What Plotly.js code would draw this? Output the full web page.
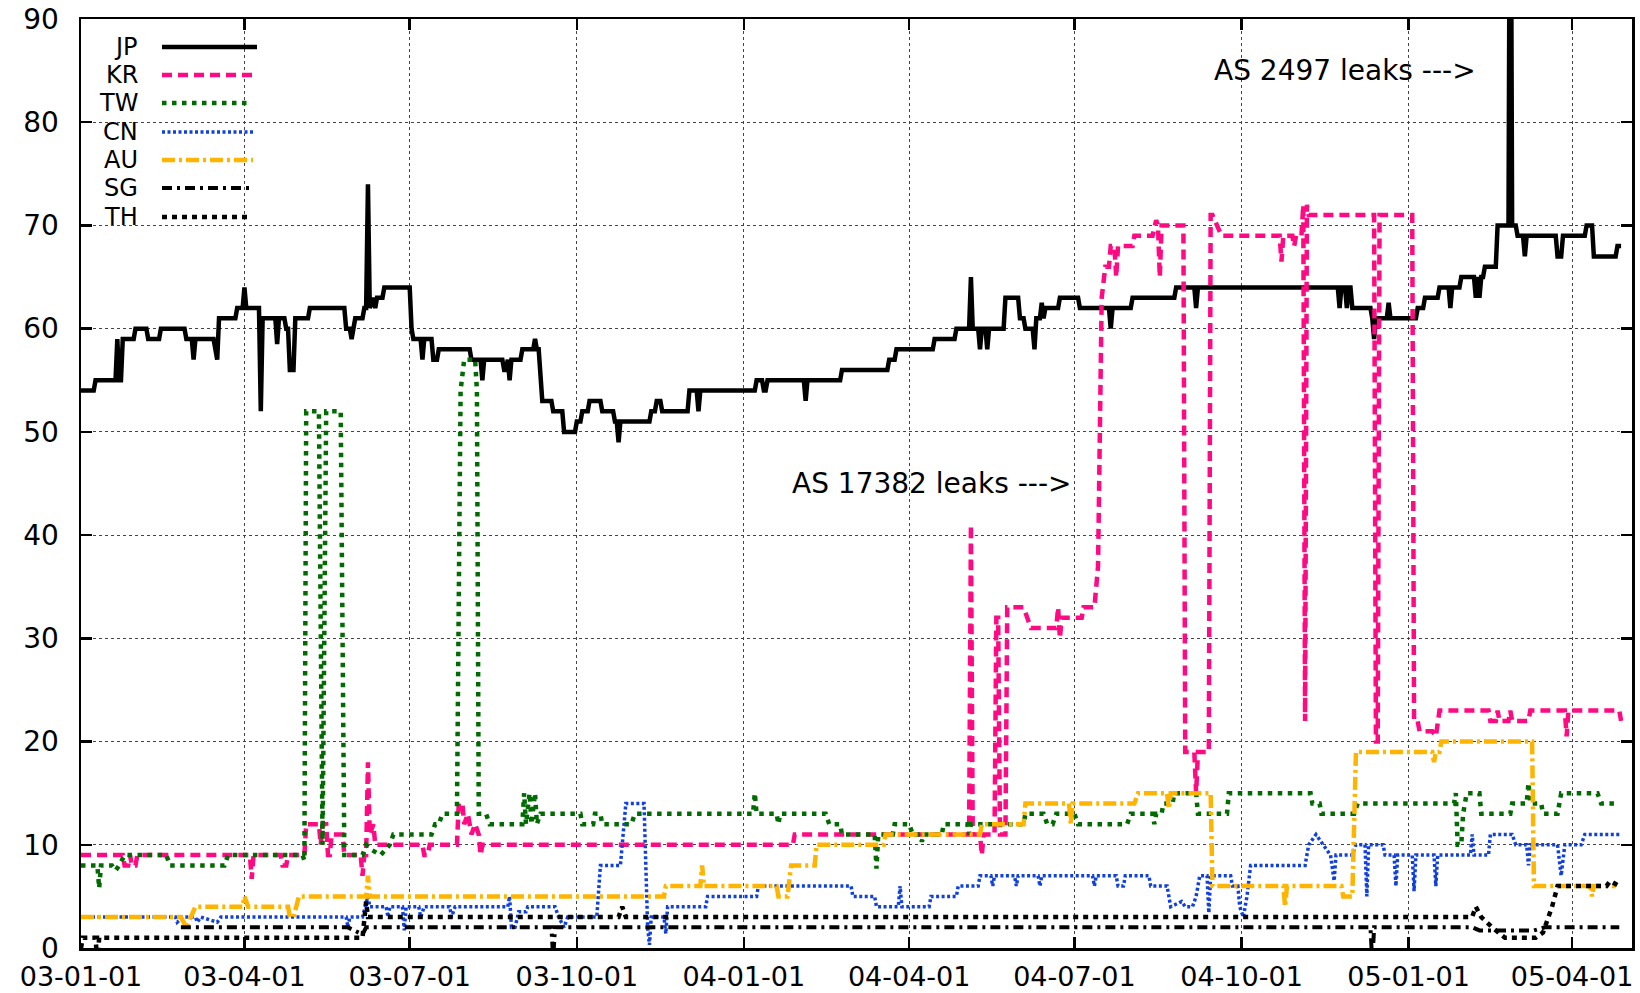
<!DOCTYPE html>
<html>
<head>
<meta charset="utf-8">
<script src="https://cdn.plot.ly/plotly-3.0.1.min.js"></script>
<style>
  html, body { margin: 0; padding: 0; background: #fff; }
  #chart { width: 1640px; height: 993px; }
</style>
</head>
<body>
<div id="chart"></div>
<script>
// ---- data: day offsets from 2003-01-01 and values ----
const START = '2003-01-01';
const seriesNames = ['JP', 'KR', 'TW', 'CN', 'AU', 'SG', 'TH'];

const jpDay = [0,7,8,19,20,21,22,23,29,30,36,37,43,44,57,58,61,62,63,73,75,76,85,86,89,90,91,98,99,100,107,108,109,112,113,114,115,117,118,125,126,145,146,148,149,150,151,155,156,157,158,159,161,162,163,166,167,181,182,183,187,188,189,193,194,196,197,214,215,220,221,222,232,233,234,235,236,237,242,243,249,250,251,252,254,259,260,265,266,272,273,275,276,279,280,286,287,293,294,295,296,297,313,314,316,317,319,320,334,335,339,340,341,371,372,375,376,377,378,398,399,400,418,419,444,445,448,449,469,470,481,482,489,490,491,494,495,496,498,499,500,508,509,516,517,519,520,524,525,526,528,529,530,531,538,539,549,550,566,567,568,578,579,602,603,613,614,615,692,693,694,696,697,698,699,700,710,711,712,713,719,720,721,735,736,739,740,747,748,753,754,755,759,760,767,768,769,770,771,772,773,779,780,786,787,788,790,791,794,795,796,812,813,815,816,828,829,832,833,845,846,848];
const jpVal = [54,54,55,55,59,55,55,59,59,60,60,59,59,60,60,59,59,57,59,59,57,61,61,62,62,64,62,62,52,61,61,58.5,61,61,60,60,56,56,61,61,62,62,60,60,59,60,61,61,62,62,74,62,63,62,63,63,64,64,60,59,59,57,59,59,57,57,58,58,57,57,55,57,57,56,56,57,55,57,57,58,58,59,58,58,53,53,52,52,50,50,51,51,52,52,53,53,52,52,51,51,49,51,51,52,52,53,53,52,52,54,54,52,54,54,55,55,54,54,55,55,53,55,55,56,56,57,57,58,58,59,59,60,60,65,60,60,58,60,60,58,60,60,63,63,61,61,60,60,58,61,61,62.5,61,62,62,63,63,62,62,60,62,62,63,63,64,64,62,64,64,62,64,64,62,64,64,62,62,61,59,61,61,62.5,61,61,62,62,63,63,64,64,62,64,64,65,65,63,65,63,65,65,66,66,70,70,120,70,70,69,69,67,69,69,67,67,69,69,70,70,67,67,68,68];

const krDay = [0,23,24,26,27,28,30,31,93,94,95,110,111,113,114,123,124,131,132,133,135,136,137,138,144,145,154,155,156,157,158,159,161,162,188,189,191,192,207,208,210,211,213,215,217,219,220,221,392,393,489,490,491,495,496,497,503,504,505,506,509,510,519,523,537,538,539,540,551,552,558,560,562,564,566,567,569,570,571,579,580,590,592,593,594,595,607,608,613,614,615,621,622,623,628,660,661,662,667,668,669,672,673,674,675,676,712,713,714,715,733,734,736,737,744,746,748,775,776,779,780,781,786,787,788,797,798,817,818,819,847,848];
const krVal = [9,9,8,8,9,8,8,9,9,6.7,9,9,8,8,9,9,12,12,10,12,12,9,9,11,11,9,9,7,9,9,18,11,12,10,10,9,9,10,10,14,14,12,13,11,12,11,9,10,10,11,11,41,11,11,9,11,11,32,32,11,11,33,33,31,31,33,30,32,32,33,33,37,63,66,66,68,68,65,68,68,69,69,70.5,70,65,70,70,19,19,15,19,19,71,71,69,69,66.5,69,69,68,69,69,72,22,72,71,71,20,20,71,71,22,22,21,21,20.5,23,23,22,22,23,22,22,23,22,22,23,23,20.5,23,23,22];

const twDay = [0,9,10,11,17,19,21,24,47,49,79,81,122,123,124,131,133,135,143,145,155,157,160,165,170,172,193,195,197,199,207,209,211,217,218,219,223,225,243,244,245,247,248,250,251,253,275,276,282,283,286,287,303,305,370,371,372,383,384,385,410,412,418,419,437,438,439,447,448,456,458,462,463,464,474,475,488,489,490,519,520,530,532,535,537,547,549,576,578,590,591,592,595,596,601,602,614,615,631,632,677,678,682,683,701,703,756,757,758,760,761,763,770,771,787,788,796,797,798,804,805,813,815,835,837,847];
const twVal = [8,8,5.8,8,8,7.5,8,9,9,8,8,9,9,8.5,52,52,10,52,52,9,9,10,9.5,9,10,11,11,12,12,13,13,54,57,57,54,13,13,12,12,15,12,15,12,15,12,13,13,12,12,13,13,12,12,13,13,15,13,13,12,13,13,12,12,11,11,7.7,11,11,12,12,11,11,10.3,11,11,12,12,11,12,12,13,13,12,12,13,13,12,12,13,13,12,13,13,14,14,15,15,13,13,15,15,14,14,13,13,14,14,15,10,10,13,15,15,13,13,14,14,16,14,14,13,13,15,15,14,14];

const cnDay = [0,52,53,56,63,64,66,75,77,146,147,148,155,157,158,159,168,169,170,177,178,179,186,187,189,203,204,206,235,236,237,239,241,245,246,261,263,266,268,284,286,297,300,310,312,313,314,321,322,323,344,345,372,373,424,425,437,438,450,451,452,467,468,482,483,494,495,501,502,503,514,515,516,527,528,529,557,558,559,570,571,574,575,588,589,598,600,606,608,612,614,616,620,621,622,633,634,637,638,640,642,644,674,676,680,684,688,690,691,700,702,707,708,709,717,718,723,724,725,733,734,735,745,746,747,765,766,767,775,776,788,790,796,797,798,813,815,817,826,828,847];
const cnVal = [3,3,2.5,3,3,2.5,3,2.5,3,3,2,3,3,4.5,5,4,4,3,4,4,1.7,4,4,3,4,4,3,4,4,5,2,2,3.5,3.5,4,4,3,2,3,3,8,8,14,14,2,0.3,3,3,1.4,4,4,5,5,6,6,5,5,4,4,6,4,4,5,5,6,6,7,7,6,7,7,6,7,7,6,7,7,6,7,7,6,6,7,7,6,6,4,4.5,4,4,5,7,7,3.4,7,7,6,6,4,3,5,8,8,10,11,10,9,6.5,9,9,10,10,5,10,10,9,9,6,9,9,5.5,9,9,6,9,9,11,9,9,11,11,10,10,8,10,10,7,10,10,11,11];

const auDay = [0,55,58,63,89,90,92,114,115,117,120,157,158,159,321,322,341,342,343,383,384,389,391,404,405,442,443,495,496,519,520,544,545,546,580,582,598,599,600,622,623,662,663,664,694,695,700,702,744,745,746,748,749,799,800,831,832,833,845];
const auVal = [3,3,2,4,4,5,4,4,3,3,5,5,7,5,5,6,6,8,6,6,5,5,8,8,10,10,11,11,12,12,14,14,12,14,14,15,15,13.5,15,15,6,6,4,6,6,5,5,19,19,18,19,19,20,20,6,6,5,6,6];

const sgDay = [55,147,155,157,259,260,261,710,711,712,766,770,800,806,847];
const sgVal = [2,2,1.3,2,2,-1,2,2,-1.5,2,2,1.7,1.7,2,2];

const thDay = [0,1,8,9,10,155,157,158,296,298,300,766,768,771,777,784,801,805,810,813,840,842,847];
const thVal = [0,1,1,-1.5,1,1,4.5,3,3,4,3,3,4,3,2,1,1,1.5,4,6,6,6.5,6];

// annotation texts and their anchors (date / value)
const noteTexts = ['AS 17382 leaks --->', 'AS 2497 leaks --->'];
const noteX = ['2004-06-30', '2005-02-08'];
const noteY = [45, 85];

// ---- styles ----
const colors = ['#000000', '#ff0a82', '#006b00', '#1040dd', '#ffb400', '#000000', '#000000'];
const widths = [4.5, 4.5, 4.5, 3.5, 4.5, 4, 4.5];
const dashes = ['solid', '10px,6px', '4.5px,5.5px', '3px,2.5px', '13px,4px,3px,4px', '10px,5px,3px,5px', '5px,5px'];

function d2s(d) {
  const t = Date.UTC(2003, 0, 1) + d * 86400000;
  return new Date(t).toISOString().slice(0, 10);
}

const allDays = [jpDay, krDay, twDay, cnDay, auDay, sgDay, thDay];
const allVals = [jpVal, krVal, twVal, cnVal, auVal, sgVal, thVal];

const traces = seriesNames.map((nm, i) => ({
  type: 'scatter',
  mode: 'lines',
  name: nm,
  x: allDays[i].map(d2s),
  y: allVals[i],
  line: { color: colors[i], width: widths[i], dash: dashes[i] },
  hoverinfo: 'skip',
  showlegend: false
}));

// plot area geometry (pixels) used for the gnuplot style key
const W = 1640, H = 993;
const M = { l: 81, r: 8, t: 19, b: 45 };
const pw = W - M.l - M.r, ph = H - M.t - M.b;
const px2x = p => (p - M.l) / pw;
const py2y = p => (H - M.b - p) / ph;

const FONT = 'DejaVu Sans, Liberation Sans, Arial, sans-serif';
const keyRows = [47, 75, 103, 132, 160, 188, 217];
const keyEnd = [257, 257, 250, 254, 253, 250, 248];

const annotations = [];
const shapes = [];
seriesNames.forEach((nm, i) => {
  annotations.push({
    xref: 'paper', yref: 'paper', x: px2x(139), y: py2y(keyRows[i]),
    xanchor: 'right', yanchor: 'middle', showarrow: false, text: nm,
    borderpad: 0,
    font: { family: FONT, size: 24, color: '#000' }
  });
  shapes.push({
    type: 'line', xref: 'paper', yref: 'paper',
    x0: px2x(162), x1: px2x(keyEnd[i]), y0: py2y(keyRows[i]), y1: py2y(keyRows[i]),
    line: { color: colors[i], width: widths[i], dash: dashes[i] }
  });
});
noteTexts.forEach((t, i) => {
  annotations.push({
    xref: 'x', yref: 'y', x: noteX[i], y: noteY[i], xanchor: 'right', yanchor: 'middle',
    showarrow: false, text: t, font: { family: FONT, size: 28, color: '#000' }
  });
});

const axisCommon = {
  showline: true, linecolor: '#000', linewidth: 2.5, mirror: 'allticks',
  ticks: 'inside', ticklen: 11, tickwidth: 2.5, tickcolor: '#000',
  showgrid: true, gridcolor: '#444', gridwidth: 1, griddash: 'dot',
  zeroline: false
};

const layout = {
  width: W, height: H,
  margin: { l: M.l, r: M.r, t: M.t, b: M.b, pad: 0 },
  paper_bgcolor: '#fff', plot_bgcolor: '#fff',
  showlegend: false,
  xaxis: Object.assign({}, axisCommon, {
    type: 'date', range: [START, '2005-05-04'],
    tick0: START, dtick: 'M3', tickformat: '%y-%m-%d',
    ticklabelstandoff: 3,
    tickfont: { family: FONT, size: 27, color: '#000' }
  }),
  yaxis: Object.assign({}, axisCommon, {
    range: [0, 90], tick0: 0, dtick: 10,
    ticklabelstandoff: 14,
    tickfont: { family: FONT, size: 28, color: '#000' }
  }),
  annotations: annotations,
  shapes: shapes
};

Plotly.newPlot('chart', traces, layout, { displayModeBar: false, staticPlot: true });
</script>
</body>
</html>
